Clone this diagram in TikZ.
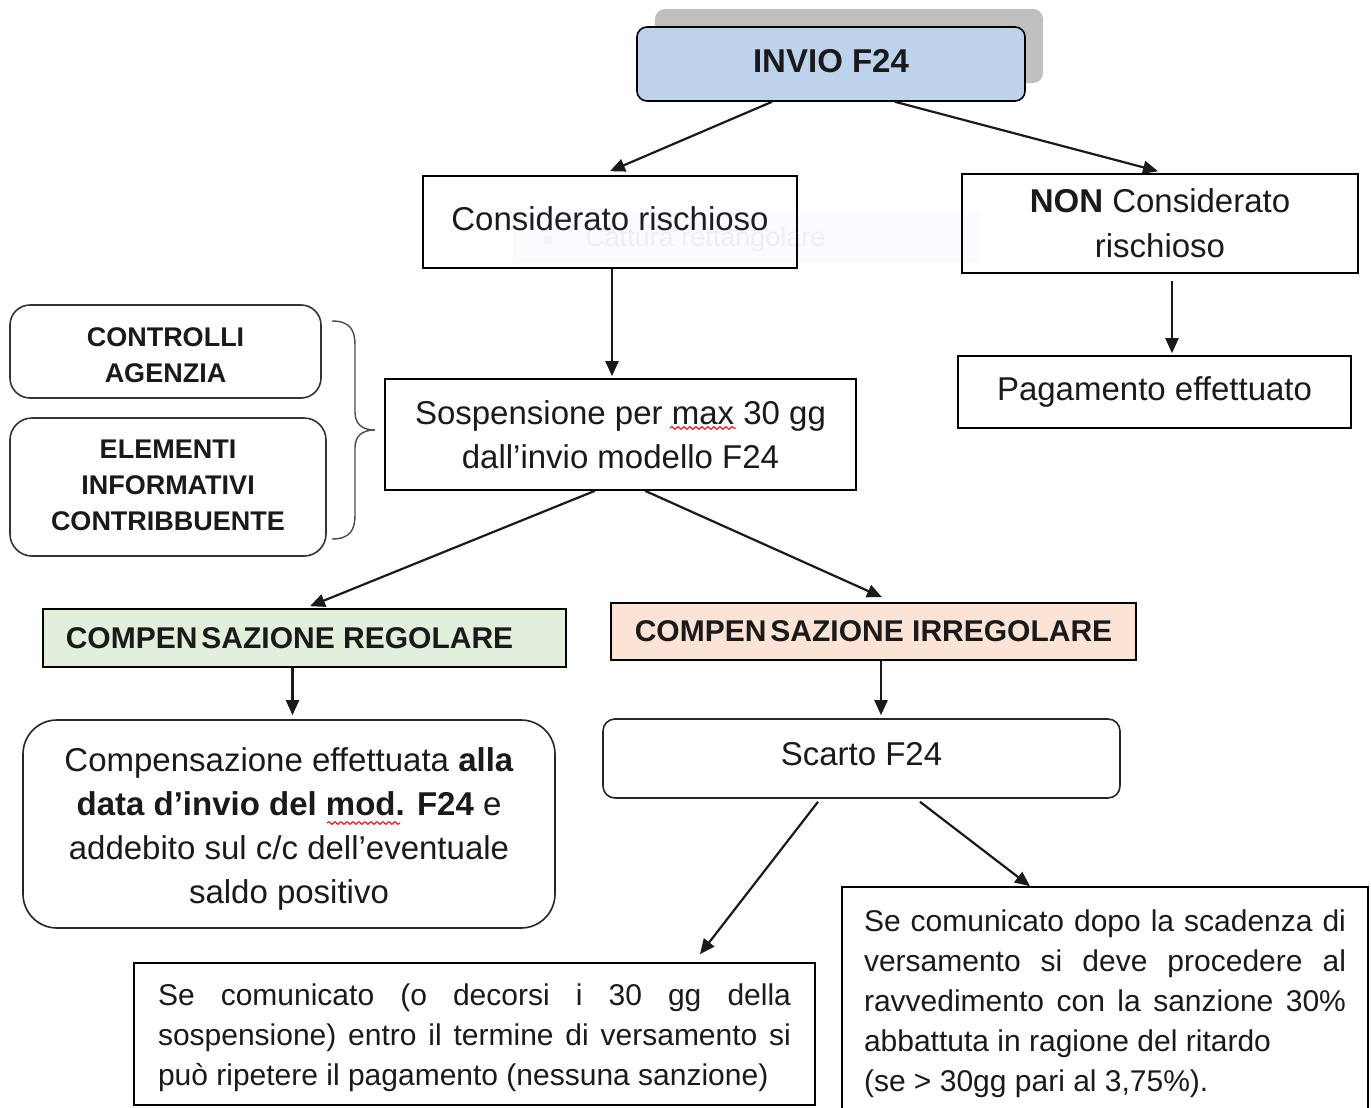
\documentclass[tikz,border=0pt]{standalone}
\usepackage{fontspec}
\setmainfont{Liberation Sans}
\usetikzlibrary{arrows.meta,decorations.pathmorphing,calc}
\definecolor{invblue}{HTML}{BDD3EB}
\definecolor{reggreen}{HTML}{E2EFDA}
\definecolor{irrpeach}{HTML}{FBE4D5}
\definecolor{shadowgray}{HTML}{BFBFBF}
\definecolor{txt}{HTML}{1A1A1A}
\newcommand{\topstrut}[1]{\rule{0pt}{#1}}
\newcommand{\botstrut}[1]{\rule[-#1]{0pt}{1pt}}
\tikzset{
 box/.style={draw=black, line width=0.8pt, fill=white, inner sep=0pt, text=txt},
 rbox/.style={box, rounded corners=#1},
 arr/.style={-{Triangle[length=7.5pt,width=6.5pt]}, line width=1.1pt, draw=txt},
 body/.style={font=\fontsize{16.5}{22}\selectfont, align=center},
 caps/.style={font=\fontsize{13.5}{18}\selectfont\bfseries, align=center},
 ccaps/.style={font=\fontsize{15}{18}\selectfont\bfseries},
 small/.style={font=\fontsize{15}{20}\selectfont, align=left},
 squig/.style={draw=red, line width=0.5pt, decorate, decoration={snake, segment length=3pt, amplitude=0.7pt}},
}
\begin{document}
\begin{tikzpicture}[x=0.5pt,y=-0.5pt]
\useasboundingbox (0,0) rectangle (1371,1108);
\clip (0,0) rectangle (1371,1108);
\fill[white] (0,0) rectangle (1371,1108);

% top
\node[rbox=5pt, draw=none, fill=shadowgray, minimum width=194pt, minimum height=37pt] (invshadow) at (849,46) {};
\node[rbox=5pt, fill=invblue, minimum width=194pt, minimum height=37pt, font=\fontsize{16.5}{20}\selectfont\bfseries] (invio) at (831,64) {INVIO F24\botstrut{3pt}};

\node[box, body, minimum width=187pt, minimum height=46pt] (cons) at (610,222) {Considerato rischioso\botstrut{3pt}};
\node[box, body, font=\fontsize{16.5}{22.5}\selectfont, minimum width=198pt, minimum height=49.5pt] (noncons) at (1160,223.5) {\textbf{NON} Considerato\\ rischioso};
\node[box, body, minimum width=196.5pt, minimum height=36pt] (pag) at (1154.5,392) {Pagamento effettuato};

\node[box, body, minimum width=235.5pt, minimum height=55.5pt] (sosp) at (620.5,434.5) {Sospensione per max 30 gg\\ dall’invio modello F24};

\node[rbox=10pt, caps, draw=black!80, minimum width=155.5pt, minimum height=46.5pt] (ctrl) at (165.5,351.5) {\topstrut{13pt}CONTROLLI\\ AGENZIA};
\node[rbox=11pt, caps, draw=black!80, minimum width=158pt, minimum height=69pt] (elem) at (168,487) {ELEMENTI\\ INFORMATIVI\\ CONTRIBBUENTE\botstrut{2pt}};

% brace
\draw[line width=0.7pt, draw=black!70] (332,321) .. controls (350,321) and (355,330) .. (355,345) -- (355,412) .. controls (355,424) and (362,430) .. (375,430) .. controls (362,430) and (355,436) .. (355,448) -- (355,515) .. controls (355,530) and (350,539) .. (332,539);

\node[box, ccaps, fill=reggreen, minimum width=261.5pt, minimum height=29pt] (reg) at (304.5,638) {COMPEN\kern2pt SAZIONE REGOLARE\hspace*{15pt}};
\node[box, ccaps, fill=irrpeach, minimum width=262.5pt, minimum height=28.5pt] (irr) at (873.5,631.5) {COMPEN\kern2pt SAZIONE IRREGOLARE};

\node[rbox=17pt, body, draw=black!85, minimum width=266pt, minimum height=104pt] (comp) at (289,824) {\topstrut{17pt}Compensazione effettuata \textbf{alla}\\ \textbf{data d’invio del mod. F24} e\\ addebito sul c/c dell’eventuale\\ saldo positivo};
\node[rbox=6pt, body, draw=black!85, minimum width=258.5pt, minimum height=39.5pt] (scarto) at (861.5,758.5) {Scarto F24\botstrut{5pt}};

\node[box, small, minimum width=340.5pt, minimum height=71pt] (bl) at (474.5,1034) {\topstrut{15pt}\makebox[316.5pt][s]{Se comunicato (o decorsi i 30 gg della}\\ \makebox[316.5pt][s]{sospensione) entro il termine di versamento si}\\ può ripetere il pagamento (nessuna sanzione)};
\node[box, small, minimum width=263pt, minimum height=114pt] (br) at (1105,1001) {\topstrut{14pt}\makebox[241pt][s]{Se comunicato dopo la scadenza di}\\ \makebox[241pt][s]{versamento si deve procedere al}\\ \makebox[241pt][s]{ravvedimento con la sanzione 30\%}\\ abbattuta in ragione del ritardo\\ (se > 30gg pari al 3,75\%).};

% faint capture overlay
\fill[blue!40!white, opacity=0.04] (513,213) rectangle (980,263);
\node[font=\fontsize{13.5}{16}\selectfont, text=gray, opacity=0.09, anchor=west, inner sep=0pt] (cattura) at (585,240) {Cattura rettangolare};
\fill[gray, opacity=0.06] (548,240) circle (5);

% spell-check squiggles
\draw[squig] (670,428) -- (736,428);
\draw[squig] (327,823) -- (400,823);

% arrows
\draw[arr] ([xshift=-29.5pt]invio.south) -- ([yshift=2pt]cons.north);
\draw[arr] ([xshift=32pt]invio.south) -- ([shift={(-1pt,1pt)}]noncons.north);
\draw[arr] ([xshift=1pt]cons.south) -- ([xshift=1pt,yshift=1pt]cons.south |- sosp.north);
\draw[arr] ([xshift=6pt,yshift=-3.5pt]noncons.south) -- ([xshift=6pt,yshift=1pt]noncons.south |- pag.north);
\draw[arr] ([xshift=-12.75pt]sosp.south) -- ([shift={(2.75pt,1pt)}]reg.north);
\draw[arr] ([xshift=12.25pt]sosp.south) -- ([shift={(4.25pt,2.5pt)}]irr.north);
\draw[arr] ([xshift=-6pt]reg.south) -- ([xshift=-6pt,yshift=2pt]reg.south |- comp.north);
\draw[arr] ([xshift=3.75pt]irr.south) -- ([xshift=3.75pt,yshift=1.5pt]irr.south |- scarto.north);
\draw[arr] ([shift={(-21.75pt,-1.5pt)}]scarto.south) -- ([shift={(112.75pt,4pt)}]bl.north);
\draw[arr] ([shift={(29.25pt,-1.5pt)}]scarto.south) -- ([shift={(-37.5pt,0pt)}]br.north);
\end{tikzpicture}
\end{document}
